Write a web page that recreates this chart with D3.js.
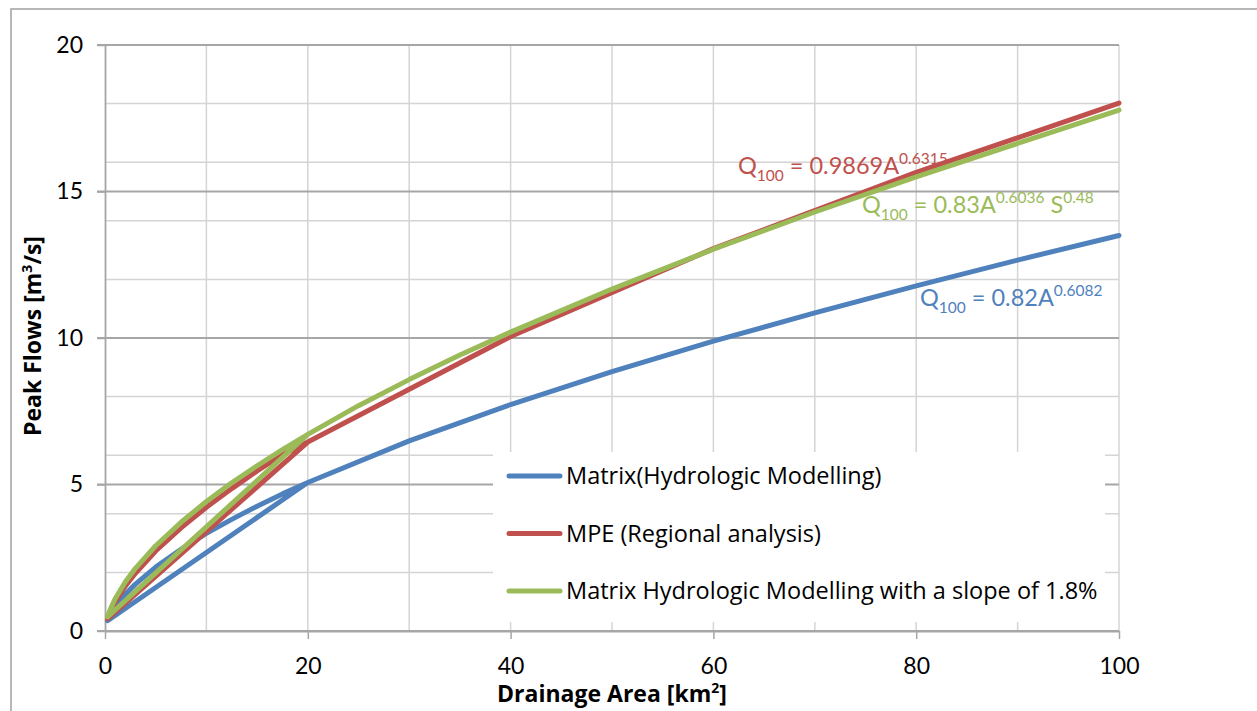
<!DOCTYPE html>
<html>
<head>
<meta charset="utf-8">
<script src="https://cdn.jsdelivr.net/npm/d3@7"></script>
<style>
    body { margin: 0; background: #fff; }
    svg { display: block; font-family: Lato, "Open Sans", sans-serif; }
</style>
</head>
<body>
<div id="chart"></div>
<script>
// Drainage area (km2) and 100-year peak flows (m3/s), in the order the points were plotted
const matrixArea = [20, 17.5, 15, 12.5, 10, 7.5, 5, 3, 2, 1, 0.5, 0.25, 20, 30, 40, 50, 60, 70, 80, 90, 100];
const matrixFlow = [5.07, 4.68, 4.26, 3.81, 3.33, 2.79, 2.18, 1.60, 1.25, 0.82, 0.54, 0.35, 5.07, 6.49, 7.73, 8.85, 9.89, 10.86, 11.78, 12.66, 13.50];

const mpeArea = [20, 17.5, 15, 12.5, 10, 7.5, 5, 3, 2, 1, 0.5, 0.25, 20, 40, 60, 80, 100];
const mpeFlow = [6.45, 6.02, 5.46, 4.86, 4.22, 3.52, 2.73, 1.97, 1.53, 0.99, 0.64, 0.41, 6.45, 10.05, 13.05, 15.65, 18.02];

const slopeArea = [20, 17.5, 15, 12.5, 10, 7.5, 5, 3, 2, 1, 0.5, 0.25, 20, 25, 30, 35, 40, 50, 60, 70, 80, 90, 100];
const slopeFlow = [6.71, 6.19, 5.64, 5.06, 4.42, 3.71, 2.91, 2.14, 1.67, 1.10, 0.72, 0.48, 6.71, 7.69, 8.58, 9.42, 10.20, 11.67, 13.03, 14.30, 15.50, 16.64, 17.78];

const seriesNames = ["Matrix(Hydrologic Modelling)", "MPE (Regional analysis)", "Matrix Hydrologic Modelling with a slope of 1.8%"];
const seriesColors = ["#4f81bd", "#c0504d", "#9bbb59"];

const xTicks = [0, 20, 40, 60, 80, 100];
const xGrid = [10, 20, 30, 40, 50, 60, 70, 80, 90, 100];
const yTicks = [0, 5, 10, 15, 20];
const yMinor = [2, 4, 6, 8, 12, 14, 16, 18];

const drawChart = () => {
    const width = 1257, height = 711;
    const margin = {top: 45, right: 138, bottom: 80, left: 105};

    const svg = d3.select("#chart")
        .append("svg")
        .attr("width", width)
        .attr("height", height);

    // outer chart border (right and bottom fall outside the picture)
    svg.append("rect")
        .attr("x", 11).attr("y", 9)
        .attr("width", 1400).attr("height", 900)
        .attr("fill", "none")
        .attr("stroke", "#a0a0a0")
        .attr("stroke-width", 1.5);

    const x = d3.scaleLinear()
        .domain([0, 100])
        .range([margin.left, width - margin.right]);

    const y = d3.scaleLinear()
        .domain([0, 20])
        .range([height - margin.bottom, margin.top]);

    // gridlines
    svg.append("g")
        .attr("stroke", "#d4d4d4")
        .attr("stroke-width", 1.5)
        .selectAll("line")
        .data(xGrid)
        .join("line")
        .attr("x1", d => x(d)).attr("x2", d => x(d))
        .attr("y1", y(0)).attr("y2", y(20));

    svg.append("g")
        .attr("stroke", "#d4d4d4")
        .attr("stroke-width", 1.5)
        .selectAll("line")
        .data(yMinor)
        .join("line")
        .attr("x1", x(0)).attr("x2", x(100))
        .attr("y1", d => y(d)).attr("y2", d => y(d));

    svg.append("g")
        .attr("stroke", "#a6a6a6")
        .attr("stroke-width", 1.8)
        .selectAll("line")
        .data(yTicks)
        .join("line")
        .attr("x1", x(0) - 8).attr("x2", x(100))
        .attr("y1", d => y(d)).attr("y2", d => y(d));

    // axes
    const xAxis = g => g
        .attr("transform", `translate(0,${y(0)})`)
        .call(d3.axisBottom(x).tickValues(xTicks).tickSize(8).tickPadding(19).tickSizeOuter(0))
        .call(g => g.select(".domain").attr("stroke", "#a6a6a6").attr("stroke-width", 1.8))
        .call(g => g.selectAll(".tick line").attr("stroke", "#a6a6a6").attr("stroke-width", 1.5))
        .call(g => g.selectAll(".tick text")
            .attr("fill", "#000")
            .attr("font-family", "Lato, sans-serif")
            .attr("font-size", 23));

    const yAxis = g => g
        .attr("transform", `translate(${x(0)},0)`)
        .call(d3.axisLeft(y).tickValues(yTicks).tickSize(8).tickPadding(14).tickSizeOuter(0))
        .call(g => g.select(".domain").attr("stroke", "#a6a6a6").attr("stroke-width", 1.8))
        .call(g => g.selectAll(".tick line").attr("stroke", "#a6a6a6").attr("stroke-width", 1.5))
        .call(g => g.selectAll(".tick text")
            .attr("fill", "#000")
            .attr("font-family", "Lato, sans-serif")
            .attr("font-size", 23));

    svg.append("g").call(xAxis);
    svg.append("g").call(yAxis);

    // axis titles
    const xTitle = svg.append("text")
        .attr("x", 612).attr("y", 702)
        .attr("text-anchor", "middle")
        .attr("font-family", "'Open Sans', sans-serif")
        .attr("font-size", 23)
        .attr("font-weight", "bold")
        .text("Drainage Area [km");
    xTitle.append("tspan").attr("font-size", 14).attr("dy", -9).text("2");
    xTitle.append("tspan").attr("dy", 9).text("]");

    const yTitle = svg.append("text")
        .attr("transform", "translate(41,336) rotate(-90)")
        .attr("text-anchor", "middle")
        .attr("font-family", "'Open Sans', sans-serif")
        .attr("font-size", 23)
        .attr("font-weight", "bold")
        .text("Peak Flows [m");
    yTitle.append("tspan").attr("font-size", 14).attr("dy", -9).text("3");
    yTitle.append("tspan").attr("dy", 9).text("/s]");

    // series
    const series = [
        {area: matrixArea, flow: matrixFlow},
        {area: mpeArea, flow: mpeFlow},
        {area: slopeArea, flow: slopeFlow}
    ];

    const line = d3.line()
        .x(d => x(d[0]))
        .y(d => y(d[1]));

    svg.append("g")
        .attr("fill", "none")
        .attr("stroke-width", 5)
        .attr("stroke-linejoin", "round")
        .attr("stroke-linecap", "round")
        .selectAll("path")
        .data(series)
        .join("path")
        .attr("stroke", (d, i) => seriesColors[i])
        .attr("d", d => line(d.area.map((a, j) => [a, d.flow[j]])));

    // regression equations
    const equations = [
        {color: seriesColors[1], x: 738, y: 174, parts: [["Q", 0], ["100", 1], [" = 0.9869A", 0], ["0.6315", -1]]},
        {color: seriesColors[2], x: 862, y: 213, parts: [["Q", 0], ["100", 1], [" = 0.83A", 0], ["0.6036", -1], [" S", 0], ["0.48", -1]]},
        {color: seriesColors[0], x: 920, y: 306, parts: [["Q", 0], ["100", 1], [" = 0.82A", 0], ["0.6082", -1]]}
    ];

    equations.forEach(eq => {
        const t = svg.append("text")
            .attr("x", eq.x).attr("y", eq.y)
            .attr("fill", eq.color)
            .attr("font-size", 23.5);
        let shift = 0;
        eq.parts.forEach(([txt, pos]) => {
            const target = pos === 1 ? 7 : pos === -1 ? -10 : 0;
            t.append("tspan")
                .attr("dy", target - shift)
                .attr("font-size", pos === 0 ? 23.5 : 15.5)
                .text(txt);
            shift = target;
        });
    });

    // legend
    const legend = svg.append("g");
    legend.append("rect")
        .attr("x", 493).attr("y", 452)
        .attr("width", 612).attr("height", 170)
        .attr("fill", "#fff");

    const rows = legend.selectAll("g")
        .data(seriesNames)
        .join("g")
        .attr("transform", (d, i) => `translate(0,${476 + i * 57.5})`);

    rows.append("line")
        .attr("x1", 509).attr("x2", 560)
        .attr("stroke", (d, i) => seriesColors[i])
        .attr("stroke-width", 5)
        .attr("stroke-linecap", "round");

    rows.append("text")
        .attr("x", 566)
        .attr("dy", "0.35em")
        .attr("font-family", "'Open Sans', sans-serif")
        .attr("font-size", 23.5)
        .attr("fill", "#000")
        .text(d => d);
};

drawChart();
</script>
</body>
</html>
